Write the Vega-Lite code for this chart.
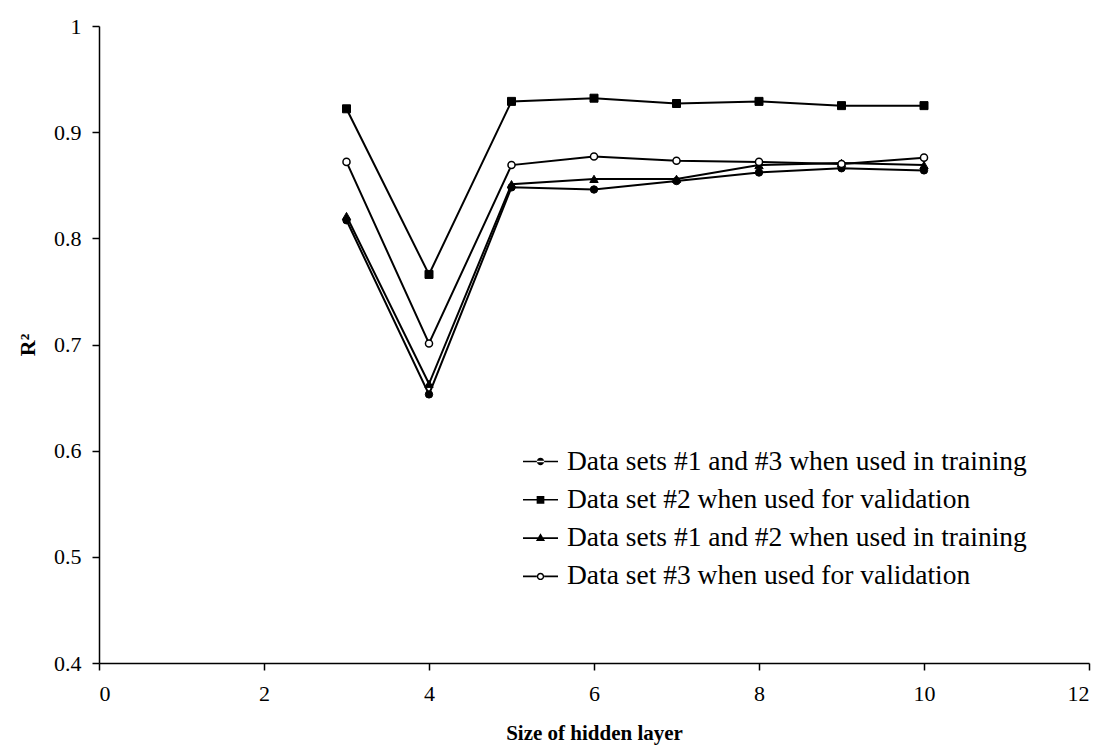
{
  "$schema": "https://vega.github.io/schema/vega-lite/v6.json",
  "width": 990,
  "height": 637,
  "autosize": {"type": "none"},
  "padding": {"left": 99, "top": 26, "right": 14, "bottom": 87},
  "background": "white",
  "config": {
    "view": {"stroke": null},
    "font": "Liberation Serif",
    "axis": {
      "grid": false,
      "domainColor": "black",
      "domainWidth": 1.5,
      "tickColor": "black",
      "tickWidth": 1.5,
      "tickSize": 7,
      "labelFont": "Liberation Serif",
      "labelFontSize": 22,
      "labelColor": "black",
      "titleFont": "Liberation Serif",
      "titleColor": "black",
      "titleFontWeight": "bold"
    },
    "legend": {
      "labelFont": "Liberation Serif",
      "labelFontSize": 27.5,
      "labelColor": "black",
      "labelLimit": 0
    }
  },
  "data": {
    "values": [
      {"hidden": 3, "r2": 0.817, "series": "Data sets #1 and #3 when used in training"},
      {"hidden": 4, "r2": 0.653, "series": "Data sets #1 and #3 when used in training"},
      {"hidden": 5, "r2": 0.848, "series": "Data sets #1 and #3 when used in training"},
      {"hidden": 6, "r2": 0.846, "series": "Data sets #1 and #3 when used in training"},
      {"hidden": 7, "r2": 0.854, "series": "Data sets #1 and #3 when used in training"},
      {"hidden": 8, "r2": 0.862, "series": "Data sets #1 and #3 when used in training"},
      {"hidden": 9, "r2": 0.866, "series": "Data sets #1 and #3 when used in training"},
      {"hidden": 10, "r2": 0.864, "series": "Data sets #1 and #3 when used in training"},
      {"hidden": 3, "r2": 0.922, "series": "Data set #2 when used for validation"},
      {"hidden": 4, "r2": 0.766, "series": "Data set #2 when used for validation"},
      {"hidden": 5, "r2": 0.929, "series": "Data set #2 when used for validation"},
      {"hidden": 6, "r2": 0.932, "series": "Data set #2 when used for validation"},
      {"hidden": 7, "r2": 0.927, "series": "Data set #2 when used for validation"},
      {"hidden": 8, "r2": 0.929, "series": "Data set #2 when used for validation"},
      {"hidden": 9, "r2": 0.925, "series": "Data set #2 when used for validation"},
      {"hidden": 10, "r2": 0.925, "series": "Data set #2 when used for validation"},
      {"hidden": 3, "r2": 0.821, "series": "Data sets #1 and #2 when used in training"},
      {"hidden": 4, "r2": 0.663, "series": "Data sets #1 and #2 when used in training"},
      {"hidden": 5, "r2": 0.851, "series": "Data sets #1 and #2 when used in training"},
      {"hidden": 6, "r2": 0.856, "series": "Data sets #1 and #2 when used in training"},
      {"hidden": 7, "r2": 0.856, "series": "Data sets #1 and #2 when used in training"},
      {"hidden": 8, "r2": 0.869, "series": "Data sets #1 and #2 when used in training"},
      {"hidden": 9, "r2": 0.871, "series": "Data sets #1 and #2 when used in training"},
      {"hidden": 10, "r2": 0.869, "series": "Data sets #1 and #2 when used in training"},
      {"hidden": 3, "r2": 0.872, "series": "Data set #3 when used for validation"},
      {"hidden": 4, "r2": 0.701, "series": "Data set #3 when used for validation"},
      {"hidden": 5, "r2": 0.869, "series": "Data set #3 when used for validation"},
      {"hidden": 6, "r2": 0.877, "series": "Data set #3 when used for validation"},
      {"hidden": 7, "r2": 0.873, "series": "Data set #3 when used for validation"},
      {"hidden": 8, "r2": 0.872, "series": "Data set #3 when used for validation"},
      {"hidden": 9, "r2": 0.870, "series": "Data set #3 when used for validation"},
      {"hidden": 10, "r2": 0.876, "series": "Data set #3 when used for validation"}
    ]
  },
  "encoding": {
    "x": {
      "field": "hidden",
      "type": "quantitative",
      "scale": {"domain": [0, 12], "nice": false, "zero": false},
      "axis": {
        "values": [0, 2, 4, 6, 8, 10, 12],
        "title": "Size of hidden layer",
        "titleFontSize": 21,
        "titlePadding": 18,
        "labelPadding": 13
      }
    },
    "y": {
      "field": "r2",
      "type": "quantitative",
      "scale": {"domain": [0.4, 1], "nice": false, "zero": false},
      "axis": {
        "values": [0.4, 0.5, 0.6, 0.7, 0.8, 0.9, 1],
        "format": "~g",
        "title": "R²",
        "titleFontSize": 22,
        "titlePadding": 14,
        "labelPadding": 11
      }
    }
  },
  "layer": [
    {
      "mark": {"type": "line", "color": "black", "strokeWidth": 2},
      "encoding": {"detail": {"field": "series"}}
    },
    {
      "transform": [{"filter": "datum.series === 'Data sets #1 and #3 when used in training'"}],
      "mark": {"type": "point", "shape": "circle", "filled": true, "fill": "black", "stroke": "black", "strokeWidth": 1, "opacity": 1, "size": 55}
    },
    {
      "transform": [{"filter": "datum.series === 'Data set #2 when used for validation'"}],
      "mark": {"type": "point", "shape": "square", "filled": true, "fill": "black", "stroke": "black", "strokeWidth": 1, "opacity": 1, "size": 64}
    },
    {
      "transform": [{"filter": "datum.series === 'Data sets #1 and #2 when used in training'"}],
      "mark": {"type": "point", "shape": "triangle-up", "filled": true, "fill": "black", "stroke": "black", "strokeWidth": 1, "opacity": 1, "size": 70}
    },
    {
      "transform": [{"filter": "datum.series === 'Data set #3 when used for validation'"}],
      "mark": {"type": "point", "shape": "circle", "filled": true, "fill": "white", "stroke": "black", "strokeWidth": 1.5, "opacity": 1, "size": 50}
    },
    {
      "transform": [{"filter": "false"}],
      "mark": {"type": "point", "filled": true, "fill": "black", "opacity": 1},
      "encoding": {
        "shape": {
          "field": "series",
          "type": "nominal",
          "scale": {
            "domain": [
              "Data sets #1 and #3 when used in training",
              "Data set #2 when used for validation",
              "Data sets #1 and #2 when used in training",
              "Data set #3 when used for validation"
            ],
            "range": [
              "M-1,-0.045H1V0.045H-1ZM-0.21,0A0.21,0.21 0 1,0 0.21,0A0.21,0.21 0 1,0 -0.21,0Z",
              "M-1,-0.045H1V0.045H-1ZM-0.22,-0.22H0.22V0.22H-0.22Z",
              "M-1,-0.045H1V0.045H-1ZM0,-0.28L0.26,0.17H-0.26Z",
              "M-1,-0.045H-0.2V0.045H-1ZM0.2,-0.045H1V0.045H0.2ZM-0.21,0A0.21,0.21 0 1,0 0.21,0A0.21,0.21 0 1,0 -0.21,0ZM-0.13,0A0.13,0.13 0 1,1 0.13,0A0.13,0.13 0 1,1 -0.13,0Z"
            ]
          },
          "legend": {
            "title": null,
            "orient": "none",
            "legendX": 423,
            "legendY": 417,
            "symbolSize": 1225,
            "symbolFillColor": "black",
            "symbolOpacity": 1,
            "labelOffset": 8,
            "rowPadding": 6.3
          }
        }
      }
    }
  ]
}
